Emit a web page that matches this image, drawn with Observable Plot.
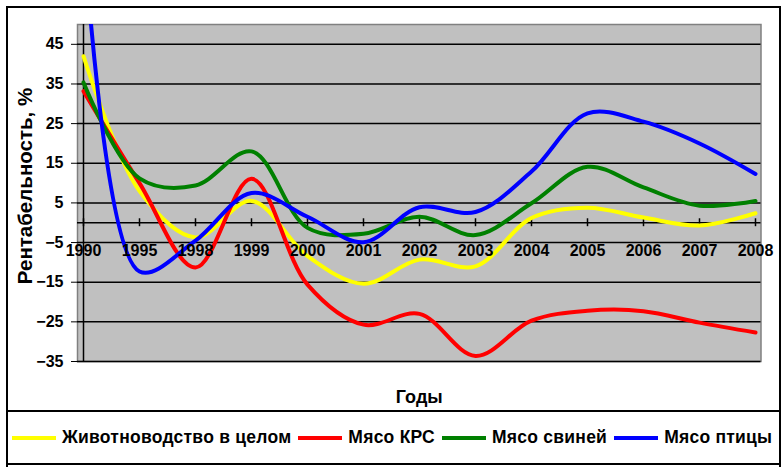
<!DOCTYPE html>
<html>
<head>
<meta charset="utf-8">
<script src="https://cdn.jsdelivr.net/npm/d3@7"></script>
<script src="https://cdn.jsdelivr.net/npm/@observablehq/plot@0.6"></script>
<style>
  html, body { margin: 0; padding: 0; background: #fff; }
  #wrap { position: relative; width: 781px; height: 467px; overflow: hidden; font-family: "Liberation Sans", Arial, sans-serif; }
  #chart { position: absolute; left: 0; top: 0; }
  #outer { position: absolute; left: 6px; top: 6px; width: 775px; height: 470px; border: 2px solid #000; box-sizing: border-box; }
  #legend { position: absolute; left: 6px; top: 410px; width: 775px; height: 55px; border: 2px solid #000; box-sizing: border-box;
            display: flex; align-items: center; padding-left: 4px; font-weight: bold; font-size: 17.5px; letter-spacing: 0.25px; white-space: nowrap; overflow: hidden; }
  .sw { width: 44px; height: 4px; margin-right: 6px; flex: none; }
  .lbl { margin-right: 7px; color: #000; }
</style>
</head>
<body>
<div id="wrap">
  <div id="outer"></div>
  <div id="chart"></div>
  <div id="legend"></div>
</div>
<script>
const years = ["1990","1995","1998","1999","2000","2001","2002","2003","2004","2005","2006","2007","2008"];
const seriesNames = ["Животноводство в целом", "Мясо КРС", "Мясо свиней", "Мясо птицы"];
const seriesColors = ["#ffff00", "#ff0000", "#008000", "#0000ff"];
const livestock = [42, 8, -3.7, 5.5, -8.4, -15.4, -9.3, -11, 1.2, 3.8, 1.3, -0.7, 2.4];
const beef      = [33.2, 10, -11.3, 11.1, -15.6, -25.7, -23, -33.6, -24.7, -22.2, -22.3, -25.2, -27.7];
const pork      = [35.4, 11.2, 9.4, 18, -1.3, -2.8, 1.5, -3.1, 4.9, 14.1, 8.9, 4.3, 5.5];
const poultry   = [75, -12.3, -4.5, 7.5, 1.5, -4.9, 3.9, 2.7, 12.9, 27.6, 25.5, 20, 12.3];
const yTicks = [-35, -25, -15, -5, 5, 15, 25, 35, 45];
const yTitle = "Рентабельность, %";
const xTitle = "Годы";

const allSeries = [livestock, beef, pork, poultry];
const rows = [];
allSeries.forEach((vals, s) => vals.forEach((v, i) => rows.push({series: seriesNames[s], year: years[i], value: v})));

const font = "'Liberation Sans', Arial, sans-serif";
const chart = Plot.plot({
  width: 781,
  height: 410,
  marginLeft: 77,
  marginRight: 20.5,
  marginTop: 24,
  marginBottom: 49,
  style: {fontFamily: font, fontWeight: "bold", fontSize: "16px", color: "#000", background: "transparent", overflow: "visible"},
  x: {type: "point", domain: years, padding: 0, axis: null},
  y: {domain: [-35, 50], axis: null},
  color: {domain: seriesNames, range: seriesColors},
  marks: [
    Plot.frame({fill: "#c0c0c0", stroke: "#808080", strokeWidth: 1.5}),
    Plot.gridY(yTicks, {stroke: "#000", strokeOpacity: 1, strokeWidth: 1.5}),
    Plot.ruleX([years[0]], {stroke: "#000", strokeWidth: 1.5}),
    Plot.ruleY([0], {stroke: "#000", strokeWidth: 1.5}),
    Plot.ruleX(years, {x: d => d, y1: -1, y2: 1, stroke: "#000", strokeWidth: 1.5}),
    Plot.axisY(yTicks, {tickSize: 6, tickPadding: 8, fontSize: 16, fontWeight: "bold", stroke: "#000", label: null}),
    Plot.line(rows, {x: "year", y: "value", z: "series", stroke: "series", strokeWidth: 4, curve: "catmull-rom", clip: true}),
    Plot.text(years, {x: d => d, y: 0, dy: 28, text: d => d, fontSize: 16, fontWeight: "bold", fill: "#000"}),
    Plot.text([yTitle], {frameAnchor: "left", textAnchor: "middle", rotate: -90, dx: -52, dy: -7, fontSize: 20.5, fontWeight: "bold", fill: "#000"}),
    Plot.text([xTitle], {frameAnchor: "bottom", textAnchor: "middle", lineAnchor: "middle", dy: 36, fontSize: 18, fontWeight: "bold", fill: "#000"})
  ]
});
document.getElementById("chart").appendChild(chart);

const legend = document.getElementById("legend");
seriesNames.forEach((name, i) => {
  const sw = document.createElement("span");
  sw.className = "sw";
  sw.style.background = seriesColors[i];
  const lb = document.createElement("span");
  lb.className = "lbl";
  lb.textContent = name;
  legend.appendChild(sw);
  legend.appendChild(lb);
});
</script>
</body>
</html>
